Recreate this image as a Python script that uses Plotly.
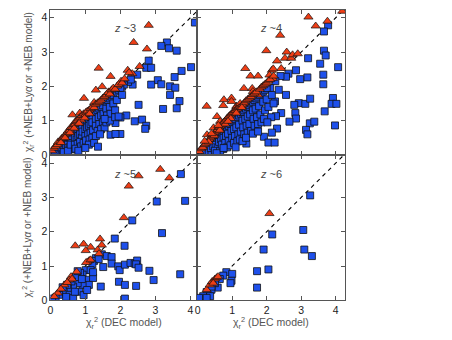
import plotly.graph_objects as go

# ---------------- data: (x = chi2_r DEC model, y = chi2_r +NEB(+Lya) model) ----------------
# z ~ 3
z3_lya = [(2.81,3.78),(2.38,3.28),(2.76,3.09),(1.38,2.53),(1.72,2.29),(2.21,2.47),(2.34,2.37),(2.55,2.58),
          (0.96,1.65),(1.25,1.53),(0.63,1.17),(0.84,1.22),(1.11,1.31),(1.30,1.89),(1.48,1.99),(1.67,1.84),
          (1.91,2.01),(2.02,2.15),(2.25,2.40),
          (0.05,0.12),(0.10,0.20),(0.15,0.25),(0.20,0.30),(0.22,0.38),(0.28,0.40),(0.32,0.48),(0.36,0.50),
          (0.40,0.55),(0.44,0.60),(0.48,0.63),(0.50,0.70),(0.55,0.72),(0.58,0.80),(0.62,0.80),(0.66,0.88),
          (0.70,0.90),(0.72,0.98),(0.76,1.00),(0.80,1.05),(0.85,1.10),(0.88,1.02),(0.90,1.15),(0.95,1.20),
          (1.00,1.18),(1.02,1.25),(1.06,1.28),(1.10,1.22),(1.15,1.35),(1.20,1.40),(1.25,1.38),(1.30,1.48),
          (1.35,1.52),(1.40,1.55),(1.45,1.60),(1.50,1.66),(1.55,1.70),(1.60,1.75),(1.65,1.82),(1.70,1.78),
          (1.75,1.90),(1.80,1.95),(1.85,1.92),(1.95,2.05),(2.05,2.10),(2.12,2.22),(0.30,0.36),(0.42,0.50),
          (0.56,0.65),(0.68,0.78),(0.82,0.92),(0.98,1.08),(1.12,1.20)]
z3_neb = [(4.13,3.86),(3.33,3.28),(3.17,3.18),(3.39,3.11),(3.61,3.04),(2.81,2.75),(2.74,2.54),(2.88,2.54),
          (2.48,2.34),(3.75,2.45),(4.02,2.56),(3.55,2.27),(3.07,2.18),(3.17,2.06),(2.88,2.05),(3.42,2.00),
          (3.57,1.96),(3.42,1.75),(3.69,1.57),(2.52,1.46),(3.22,1.34),(3.61,1.36),(2.35,2.05),(2.22,2.13),
          (2.05,1.99),(2.17,1.15),(2.00,1.09),(2.41,0.98),(2.62,1.03),(2.74,0.85),(2.71,0.76),(1.86,0.93),
          (2.00,0.61),(1.72,0.59),(1.86,0.61),(0.63,0.16),(2.10,2.05),(2.30,2.20),
          (0.10,0.05),(0.15,0.10),(0.20,0.15),(0.25,0.20),(0.30,0.25),(0.18,0.03),(0.28,0.08),(0.35,0.15),
          (0.12,0.12),(0.22,0.22),(0.40,0.35),(0.45,0.40),(0.50,0.45),(0.55,0.50),(0.40,0.20),(0.45,0.28),
          (0.50,0.30),(0.55,0.22),(0.60,0.40),(0.60,0.55),(0.38,0.08),(0.50,0.12),(0.58,0.30),
          (0.70,0.65),(0.75,0.70),(0.80,0.72),(0.85,0.80),(0.90,0.85),(0.70,0.50),(0.75,0.45),(0.80,0.55),
          (0.85,0.60),(0.90,0.50),(0.70,0.30),(0.78,0.32),(0.85,0.38),(0.92,0.68),(0.72,0.18),(0.88,0.25),
          (0.95,0.35),(0.80,0.12),(1.00,0.95),(1.05,1.00),(1.10,1.05),(1.15,1.10),(1.20,1.12),(1.00,0.75),
          (1.05,0.80),(1.10,0.85),(1.15,0.90),(1.20,0.95),(1.00,0.55),(1.08,0.60),(1.15,0.65),(1.22,0.72),
          (1.02,0.42),(1.12,0.45),(1.20,0.50),(1.10,0.30),(1.25,0.35),(1.00,0.20),(1.30,1.25),(1.35,1.30),
          (1.40,1.35),(1.45,1.40),(1.50,1.45),(1.30,1.05),(1.38,1.10),(1.45,1.15),(1.52,1.20),(1.30,0.85),
          (1.40,0.90),(1.50,0.95),(1.35,0.70),(1.45,0.75),(1.55,0.80),(1.30,0.55),(1.42,0.60),(1.36,0.24),
          (1.60,1.55),(1.65,1.60),(1.70,1.65),(1.75,1.70),(1.80,1.75),(1.60,1.35),(1.70,1.40),(1.80,1.50),
          (1.62,1.15),(1.72,1.20),(1.85,1.30),(1.60,0.95),(1.70,1.00),(1.55,1.05),(1.90,1.85),(1.95,1.90),
          (2.00,1.95),(1.90,1.60),(2.05,1.75),(1.85,1.10),(1.95,1.12)]

# z ~ 4
z4_lya = [(4.19,4.19),(3.21,4.02),(3.76,3.90),(3.42,3.76),(2.39,3.49),(1.99,3.04),(2.58,3.00),(2.30,2.74),
          (2.53,2.82),(2.71,2.82),(2.75,2.92),(2.90,2.95),(1.38,2.52),(1.53,2.30),(1.75,2.30),(2.15,2.47),
          (2.42,2.52),(2.18,2.23),(2.08,2.33),(1.34,1.94),(1.58,1.94),(1.60,1.85),(0.76,1.61),(0.98,1.66),
          (0.26,1.42),(0.74,1.44),(1.12,1.42),(0.98,1.56),(1.36,1.51),(1.27,1.42),(1.75,1.75),(2.19,2.51),
          (0.56,1.12),(0.65,0.98),(0.46,0.79),(0.27,0.59),(1.13,1.41),(1.23,1.50),
          (0.05,0.10),(0.10,0.18),(0.15,0.22),(0.20,0.30),(0.24,0.34),(0.30,0.40),(0.34,0.45),(0.38,0.50),
          (0.42,0.55),(0.46,0.60),(0.50,0.66),(0.54,0.70),(0.58,0.74),(0.62,0.80),(0.66,0.84),(0.70,0.88),
          (0.74,0.94),(0.78,0.98),(0.82,1.02),(0.86,1.08),(0.90,1.12),(0.94,1.16),(0.98,1.20),(1.02,1.24),
          (1.06,1.28),(1.10,1.30),(1.15,1.34),(1.20,1.38),(1.25,1.40),(1.30,1.46),(1.35,1.52),(1.40,1.58),
          (1.45,1.62),(1.50,1.66),(1.55,1.70),(1.60,1.76),(1.65,1.80),(1.70,1.84),(1.80,1.92),(1.85,1.98),
          (1.90,2.02),(1.95,2.06),(2.00,2.10),(2.05,2.16),(2.10,2.20),(2.20,2.30),(0.32,0.38),(0.48,0.56),
          (0.64,0.72),(0.80,0.90),(0.96,1.06),(1.12,1.22),(1.28,1.38),(0.20,0.40),(0.40,0.62),(0.60,0.86),
          (0.88,0.98)]
z4_neb = [(3.78,3.78),(3.66,3.60),(3.66,3.04),(3.71,2.90),(3.20,2.82),(3.55,2.66),(4.07,2.56),(3.64,2.34),
          (3.18,2.26),(2.97,2.21),(2.85,2.47),(2.63,2.37),(2.56,2.28),(3.64,2.06),(2.56,1.75),(2.24,1.56),
          (2.93,1.51),(2.80,1.46),(3.12,1.49),(3.26,1.64),(3.92,1.66),(3.88,1.49),(4.02,1.49),(3.68,1.27),
          (2.83,1.22),(2.42,1.22),(2.27,1.13),(2.13,1.10),(2.85,1.06),(2.66,0.97),(3.25,0.92),(3.38,0.97),
          (3.98,0.86),(3.14,0.73),(3.18,0.60),(2.30,0.77),(2.15,0.65),(1.92,0.53),(2.05,0.36),(2.23,0.36),
          (1.41,0.33),(0.74,0.17),(2.40,2.30),(2.25,2.15),(2.10,1.95),
          (0.05,0.03),(0.10,0.08),(0.15,0.12),(0.20,0.17),(0.25,0.22),(0.30,0.27),(0.12,0.02),(0.22,0.05),
          (0.32,0.10),(0.40,0.05),(0.35,0.30),(0.40,0.36),(0.45,0.40),(0.50,0.45),(0.55,0.50),(0.60,0.55),
          (0.38,0.20),(0.45,0.25),(0.52,0.30),(0.58,0.22),(0.62,0.38),(0.50,0.12),(0.65,0.12),(0.55,0.05),
          (0.65,0.60),(0.70,0.65),(0.75,0.70),(0.80,0.75),(0.85,0.80),(0.90,0.85),(0.68,0.45),(0.75,0.50),
          (0.82,0.55),(0.88,0.62),(0.70,0.30),(0.80,0.35),(0.90,0.40),(0.85,0.22),(0.95,0.28),(0.75,0.20),
          (0.95,0.90),(1.00,0.95),(1.05,1.00),(1.10,1.05),(1.15,1.10),(1.20,1.15),(0.98,0.70),(1.05,0.75),
          (1.12,0.80),(1.20,0.88),(1.00,0.50),(1.08,0.55),(1.18,0.60),(1.25,0.68),(1.05,0.35),(1.15,0.40),
          (1.22,0.45),(1.10,0.22),(1.25,1.20),(1.30,1.25),(1.35,1.30),(1.40,1.35),(1.45,1.40),(1.50,1.45),
          (1.30,1.00),(1.38,1.05),(1.45,1.12),(1.52,1.18),(1.32,0.80),(1.42,0.85),(1.50,0.90),(1.35,0.60),
          (1.45,0.65),(1.55,0.70),(1.30,0.40),(1.40,0.50),(1.55,1.50),(1.60,1.55),(1.65,1.60),(1.70,1.65),
          (1.75,1.70),(1.60,1.30),(1.68,1.35),(1.78,1.42),(1.62,1.05),(1.72,1.10),(1.82,1.18),(1.65,0.85),
          (1.75,0.90),(1.85,0.95),(1.60,0.62),(1.75,0.68),(1.80,1.75),(1.85,1.80),(1.90,1.85),(1.95,1.90),
          (2.00,1.95),(1.90,1.55),(2.00,1.62),(1.95,1.30),(2.05,1.40),(1.92,1.05),(2.02,0.95),(2.15,1.75),
          (2.20,1.50),(2.35,1.90)]

# z ~ 5
z5_lya = [(3.14,3.82),(2.52,3.63),(3.40,3.57),(2.24,3.33),(2.10,2.41),(1.42,1.79),(1.47,1.61),(0.95,1.64),
          (0.71,1.59),(1.15,1.55),(1.01,1.45),(1.35,1.47),(1.39,1.36),(1.11,1.16),(1.06,1.12),(0.75,0.83),
          (0.59,0.69),(0.54,0.59),(0.40,0.45),(0.21,0.21),(0.11,0.11),(1.02,1.10),(1.15,1.18),(0.62,0.62),
          (0.30,0.33),(0.48,0.52)]
z5_neb = [(3.73,3.68),(3.85,2.90),(3.04,2.88),(2.34,2.33),(3.19,1.96),(1.84,1.80),(2.12,1.59),(1.47,1.34),
          (1.61,1.29),(1.75,1.26),(1.30,1.23),(1.51,0.97),(1.75,1.07),(1.94,0.99),(1.98,0.88),(2.13,1.04),
          (2.29,1.09),(2.41,1.07),(2.48,1.16),(2.45,1.05),(2.52,0.95),(2.83,0.86),(3.71,0.76),(2.95,0.59),
          (1.96,0.54),(2.13,0.45),(2.45,0.42),(1.44,0.40),(2.13,0.05),(1.25,1.15),(1.38,1.20),(1.20,1.05),
          (1.01,0.88),(1.15,0.88),(0.92,0.75),(1.05,0.60),(1.22,0.65),(1.22,0.82),(1.10,0.45),(0.92,0.45),
          (0.78,0.50),(0.65,0.40),(0.50,0.35),(0.38,0.25),(0.25,0.16),(0.15,0.08),(0.05,0.05),(0.55,0.16),
          (0.65,0.06),(0.45,0.10),(0.82,0.25),(0.95,0.15),(1.05,0.30),(0.85,0.80),(0.72,0.68),(0.60,0.55),
          (0.48,0.45),(0.35,0.38),(0.78,0.85),(0.90,0.62),(0.70,0.25)]

# z ~ 6
z6_lya = [(2.08,2.53),(0.26,0.31),(0.35,0.45),(0.42,0.55),(0.50,0.62),(0.55,0.66),(0.59,0.69),(0.45,0.50)]
z6_neb = [(3.26,3.06),(2.16,1.92),(3.06,2.05),(1.91,1.48),(3.09,1.48),(3.31,1.29),(2.05,0.90),(1.72,0.85),
          (1.72,0.37),(0.83,0.82),(1.00,0.77),(0.98,0.57),(0.95,0.50),(0.74,0.72),(0.64,0.62),(0.58,0.37),
          (0.40,0.31),(0.26,0.24),(0.16,0.12),(0.04,0.07),(0.36,0.12),(0.26,0.07),(0.50,0.50),(0.40,0.40)]

labels = ["~3", "~4", "~5", "~6"]
tick_vals = [0, 1, 2, 3, 4]

# ---------------- layout geometry ----------------
W, H = 452, 340
xl = [47.7 / W, 195.3 / W]
xr = [195.3 / W, 344.3 / W]
yt = [1 - 157.7 / H, 1 - 9.7 / H]
yb = [1 - 305.7 / H, 1 - 157.7 / H]
panels = [  # (lya, neb, xdomain, ydomain, xrange, show x labels, show y labels)
    (z3_lya, z3_neb, xl, yt, [0, 4.19], False, True),
    (z4_lya, z4_neb, xr, yt, [-0.02, 4.27], False, False),
    (z5_lya, z5_neb, xl, yb, [0, 4.19], True, True),
    (z6_lya, z6_neb, xr, yb, [-0.02, 4.27], True, False),
]

BLUE = "rgb(30,80,235)"
RED = "rgb(238,62,22)"
FONT = "Liberation Sans, Arial, sans-serif"

fig = go.Figure()
layout = dict(width=W, height=H, margin=dict(l=0, r=0, t=0, b=0),
              paper_bgcolor="white", plot_bgcolor="white", showlegend=False,
              font=dict(family=FONT, size=10, color="#222"))
annotations = []

for i, (lya, neb, xd, yd, xrng, showx, showy) in enumerate(panels):
    n = "" if i == 0 else str(i + 1)
    xa, ya = "x" + n, "y" + n
    fig.add_trace(go.Scatter(x=[0, 4.4], y=[0, 4.4], mode="lines", xaxis=xa, yaxis=ya,
                             line=dict(color="black", width=1.1, dash="4px,4px"), hoverinfo="skip"))
    fig.add_trace(go.Scatter(x=[p[0] for p in neb], y=[p[1] for p in neb], mode="markers",
                             xaxis=xa, yaxis=ya,
                             marker=dict(symbol="square", size=7, color=BLUE,
                                         line=dict(color="#111", width=0.8))))
    fig.add_trace(go.Scatter(x=[p[0] for p in lya], y=[p[1] for p in lya], mode="markers",
                             xaxis=xa, yaxis=ya,
                             marker=dict(symbol="triangle-up", size=8, color=RED,
                                         line=dict(color="#111", width=0.7))))
    common = dict(showline=True, mirror="ticks", linecolor="#555", linewidth=1,
                  ticks="inside", ticklen=4, tickcolor="#555", tickwidth=1,
                  tickvals=tick_vals, showgrid=False, zeroline=False, fixedrange=True,
                  tickfont=dict(family=FONT, size=10.5, color="#222"))
    layout["xaxis" + n] = dict(common, domain=xd, range=xrng, anchor=ya,
                               showticklabels=showx)
    layout["yaxis" + n] = dict(common, domain=yd, range=[0, 4.24], anchor=xa,
                               showticklabels=showy)
    annotations.append(dict(x=2.12, y=3.69, xref=xa, yref=ya, showarrow=False,
                            xanchor="center", yanchor="middle",
                            text="<i>z</i> " + labels[i],
                            font=dict(family=FONT, size=11, color="#444")))

ytitle = "χ<sub>r</sub><sup>2</sup> (+NEB+Ly<i>α</i> or +NEB model)"
xtitle = "χ<sub>r</sub><sup>2</sup> (DEC model)"
for yd in (yt, yb):
    annotations.append(dict(x=25 / W, y=(yd[0] + yd[1]) / 2, xref="paper", yref="paper",
                            xanchor="center", yanchor="middle",
                            text=ytitle, textangle=-90, showarrow=False,
                            font=dict(family=FONT, size=10, color="#555")))
for xc in (121.5 / W, 270 / W):
    annotations.append(dict(x=xc, y=1 - 329 / H, xref="paper", yref="paper",
                            xanchor="center", yanchor="middle",
                            text=xtitle, showarrow=False,
                            font=dict(family=FONT, size=10.5, color="#555")))

layout["annotations"] = annotations
fig.update_layout(**layout)
fig.write_html("out.html", config={"displayModeBar": False},
               post_script="document.body.style.margin='0';document.body.style.padding='0';")
